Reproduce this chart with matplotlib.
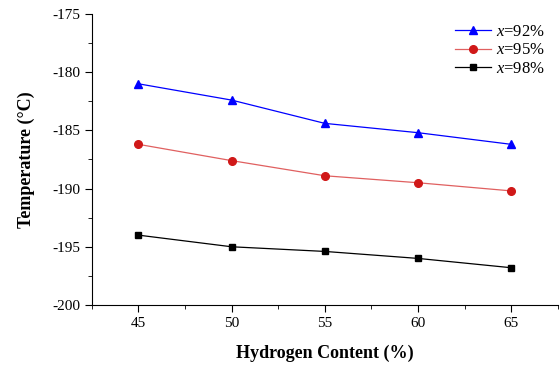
import matplotlib.pyplot as plt
from matplotlib.ticker import MultipleLocator

plt.rcParams['font.family'] = ['Liberation Serif', 'DejaVu Serif']
plt.rcParams['mathtext.fontset'] = 'custom'
plt.rcParams['mathtext.it'] = 'Liberation Serif:italic'
plt.rcParams['mathtext.rm'] = 'Liberation Serif'
plt.rcParams['axes.unicode_minus'] = False

hydrogen = [45, 50, 55, 60, 65]
t_92 = [-181.0, -182.4, -184.4, -185.2, -186.2]
t_95 = [-186.2, -187.6, -188.9, -189.5, -190.2]
t_98 = [-194.0, -195.0, -195.4, -196.0, -196.8]

fig = plt.figure(figsize=(5.6, 3.67), dpi=100)
ax = fig.add_axes([0.164, 0.169, 0.832, 0.793])

ax.plot(hydrogen, t_92, '-', color='#0000ff', lw=0.9, marker='^', ms=6,
        mfc='#0000ff', mec='#0000ff', label=r'$x$=92%')
ax.plot(hydrogen, t_95, '-', color='#e06060', lw=0.9, marker='o', ms=5.5,
        mfc='#d01818', mec='#d01818', label=r'$x$=95%')
ax.plot(hydrogen, t_98, '-', color='black', lw=0.9, marker='s', ms=5,
        mfc='black', mec='black', label=r'$x$=98%')

ax.set_xlim(42.5, 67.5)
ax.set_ylim(-200, -175)
ax.xaxis.set_major_locator(MultipleLocator(5))
ax.xaxis.set_minor_locator(MultipleLocator(2.5))
ax.yaxis.set_major_locator(MultipleLocator(5))
ax.yaxis.set_minor_locator(MultipleLocator(2.5))
ax.tick_params(which='both', direction='out', labelsize=11)
ax.tick_params(which='major', length=5)
ax.tick_params(which='minor', length=3)

for s in ['top', 'right']:
    ax.spines[s].set_visible(False)

ax.set_xlabel('Hydrogen Content (%)', fontsize=13, fontweight='bold', labelpad=11)
ax.set_ylabel('Temperature (°C)', fontsize=13, fontweight='bold', labelpad=12)

ax.legend(loc='upper right', frameon=False, fontsize=12, handlelength=2.2,
          handletextpad=0.3, labelspacing=0.15, borderaxespad=0.2,
          bbox_to_anchor=(0.995, 1.0))

plt.savefig('out.png', dpi=100)
